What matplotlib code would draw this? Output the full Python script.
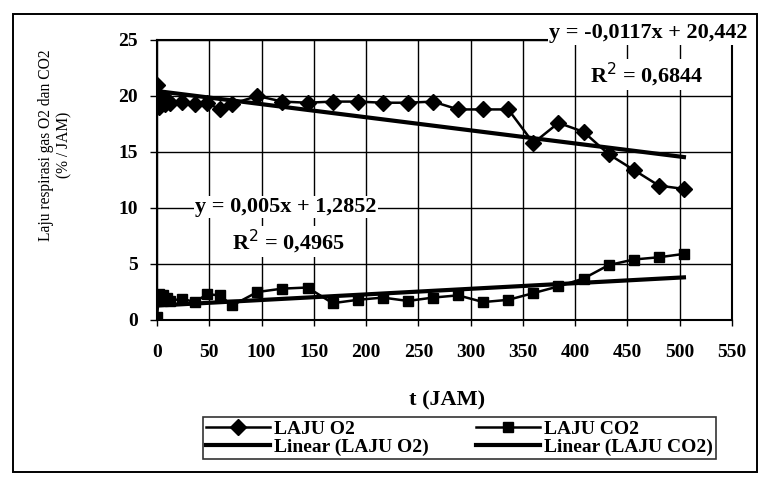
import numpy as np
import matplotlib
matplotlib.use("Agg")
import matplotlib.pyplot as plt
from matplotlib.patches import Rectangle

# sampling times (hours)
t_jam = [0, 2, 4, 6, 8, 10, 12, 24, 36, 48, 60, 72, 96, 120, 144, 168, 192,
         216, 240, 264, 288, 312, 336, 360, 384, 408, 432, 456, 480, 504]

laju_o2 = [21.0, 19.0, 19.8, 19.5, 19.3, 19.6, 19.4, 19.5, 19.3, 19.4, 18.8,
           19.3, 20.0, 19.5, 19.4, 19.5, 19.5, 19.4, 19.4, 19.5, 18.8, 18.8,
           18.8, 15.8, 17.6, 16.8, 14.8, 13.4, 12.0, 11.7]

laju_co2 = [0.3, 2.3, 1.8, 2.2, 1.9, 2.0, 1.7, 1.9, 1.6, 2.3, 2.2, 1.3, 2.5,
            2.8, 2.9, 1.5, 1.8, 2.0, 1.7, 2.0, 2.2, 1.6, 1.8, 2.4, 3.0, 3.7,
            4.9, 5.4, 5.6, 5.9]

# linear trend coefficients (slope, intercept, R^2)
fit_o2 = (-0.0117, 20.442, 0.6844)
fit_co2 = (0.005, 1.2852, 0.4965)

x_ticks = list(range(0, 551, 50))
y_ticks = list(range(0, 26, 5))

SERIF = ["Liberation Serif", "DejaVu Serif"]
plt.rcParams["font.family"] = SERIF


def fmt(v, nd):
    return f"{v:.{nd}f}".replace(".", ",")


fig = plt.figure(figsize=(7.67, 4.86), dpi=100)
ax = fig.add_axes([0.2047, 0.3416, 0.7497, 0.5761])

t = np.array(t_jam, dtype=float)
h_o2, = ax.plot(t, laju_o2, color="black", lw=1.8, marker="D", ms=8,
                label="LAJU O2", zorder=4)
h_co2, = ax.plot(t, laju_co2, color="black", lw=1.8, marker="s", ms=7.5,
                 label="LAJU CO2", zorder=4)
h_lo2, = ax.plot(t, fit_o2[0] * t + fit_o2[1], color="black", lw=3.0,
                 label="Linear (LAJU O2)", zorder=3)
h_lco2, = ax.plot(t, fit_co2[0] * t + fit_co2[1], color="black", lw=3.0,
                  label="Linear (LAJU CO2)", zorder=3)

ax.set_xlim(0, 550)
ax.set_ylim(0, 25)
ax.set_xticks(x_ticks)
ax.set_yticks(y_ticks)
ax.grid(True, color="black", lw=1.0)
ax.set_axisbelow(True)
for s in ax.spines.values():
    s.set_linewidth(1.5)
ax.tick_params(axis="x", length=4, width=1.0, pad=13, labelsize=14)
ax.tick_params(axis="y", length=5, width=1.0, pad=9, labelsize=14)
for lab in ax.get_xticklabels() + ax.get_yticklabels():
    lab.set_fontweight("bold")

box = dict(facecolor="white", edgecolor="none", pad=1.0)
eq_size = 16
ax.text(470, 25.6, f"y = {fmt(fit_o2[0], 4)}x + {fmt(fit_o2[1], 3)}",
        ha="center", va="center", fontsize=eq_size, fontweight="bold",
        bbox=box, clip_on=False, zorder=6)
ax.text(468, 21.9, f"R$^2$ = {fmt(fit_o2[2], 4)}", ha="center", va="center",
        fontsize=eq_size, fontweight="bold", bbox=box, zorder=6)
ax.text(123, 10.1, f"y = {fmt(fit_co2[0], 3)}x + {fmt(fit_co2[1], 4)}",
        ha="center", va="center", fontsize=eq_size, fontweight="bold",
        bbox=box, zorder=6)
ax.text(126, 7.0, f"R$^2$ = {fmt(fit_co2[2], 4)}", ha="center", va="center",
        fontsize=eq_size, fontweight="bold", bbox=box, zorder=6)

fig.text(447 / 767, 1 - 400 / 486, "t (JAM)", ha="center", va="center",
         fontsize=16, fontweight="bold")
fig.text(55 / 767, 1 - 145 / 486, "Laju respirasi gas O2 dan CO2\n(% / JAM)",
         rotation=90, ha="center", va="center", multialignment="center",
         fontsize=11.2, linespacing=1.15)

leg = fig.legend([h_o2, h_lo2, h_co2, h_lco2],
                 ["LAJU O2", "Linear (LAJU O2)", "LAJU CO2", "Linear (LAJU CO2)"],
                 ncol=2, loc="center", bbox_to_anchor=(459.5 / 767, 1 - 438 / 486),
                 prop={"family": SERIF, "weight": "bold", "size": 14},
                 frameon=True, fancybox=False, handlelength=3.3,
                 borderpad=0.15, labelspacing=0.0, columnspacing=2.4,
                 handletextpad=0.2, borderaxespad=0)
leg.get_frame().set_edgecolor("black")
leg.get_frame().set_linewidth(1.2)

fig.patches.append(Rectangle((13 / 767, 1 - 472 / 486), 744 / 767, 458 / 486,
                             transform=fig.transFigure, fill=False,
                             edgecolor="black", lw=1.4))

fig.savefig("out.png", dpi=100)
